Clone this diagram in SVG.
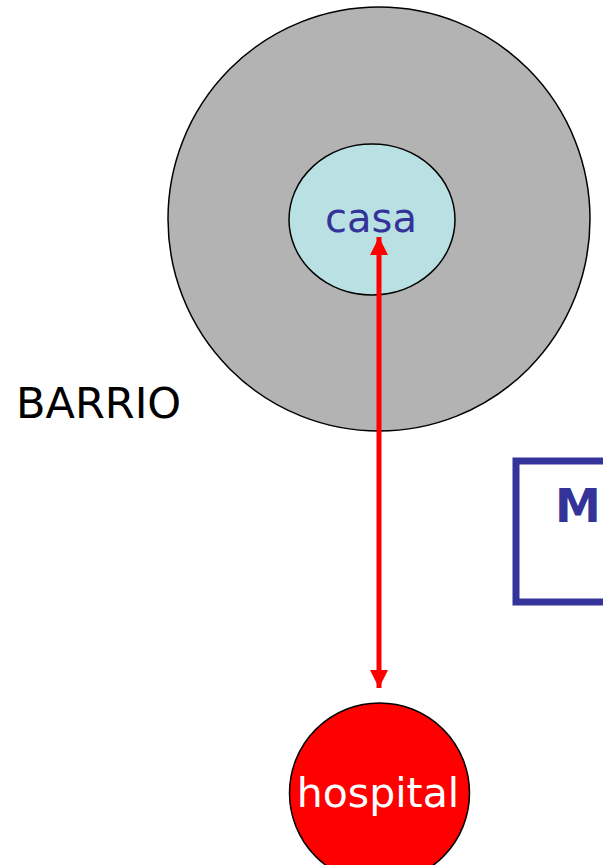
<svg xmlns="http://www.w3.org/2000/svg" width="603" height="865" viewBox="0 0 603 865">
<style>
.lbl{font-family:"DejaVu Sans","Verdana",sans-serif;}
</style>
<defs>
<marker id="ah" viewBox="0 0 10 10" refX="10" refY="5" markerWidth="3.6" markerHeight="3.6" orient="auto-start-reverse" markerUnits="strokeWidth">
<path d="M0,0 L10,5 L0,10 z" fill="#ff0000"/>
</marker>
</defs>
<rect width="603" height="865" fill="#ffffff"/>
<g id="barrio">
<ellipse cx="379" cy="219" rx="211" ry="212" fill="#b3b3b3" stroke="#000" stroke-width="1.5"/>
<text class="lbl" x="16" y="418" font-size="43" fill="#000">BARRIO</text>
</g>
<g id="casa">
<ellipse cx="372" cy="219.5" rx="83" ry="75.5" fill="#b9e0e3" stroke="#000" stroke-width="1.5"/>
<text class="lbl" x="371" y="232" font-size="40" fill="#333399" text-anchor="middle">casa</text>
</g>
<g id="m-box">
<rect x="516" y="461" width="100" height="141" fill="none" stroke="#333399" stroke-width="7"/>
<text class="lbl" x="555" y="522" font-size="46" font-weight="bold" fill="#333399">M</text>
</g>
<g id="hospital">
<ellipse cx="379.5" cy="793" rx="90" ry="90" fill="#ff0000" stroke="#000" stroke-width="1.5"/>
<text class="lbl" x="378" y="807" font-size="41" fill="#ffffff" text-anchor="middle">hospital</text>
</g>
<g id="connectors">
<line x1="379" y1="237" x2="379" y2="688" stroke="#ff0000" stroke-width="5" marker-start="url(#ah)" marker-end="url(#ah)"/>
</g>
</svg>
